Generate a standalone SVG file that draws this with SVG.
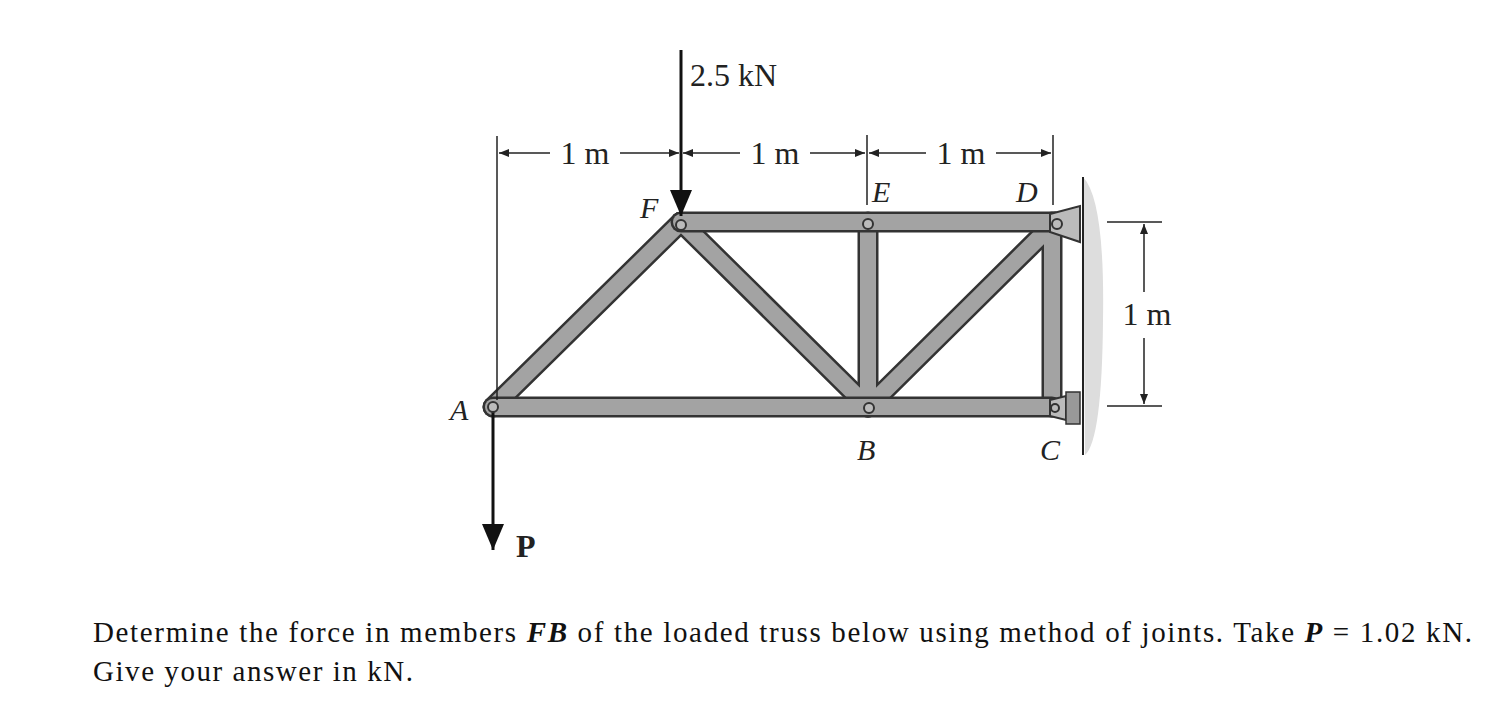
<svg xmlns="http://www.w3.org/2000/svg" width="1500" height="709" viewBox="0 0 1500 709">
<defs>
<style>
.mo{stroke:#333;stroke-width:21;stroke-linecap:round}
.mi{stroke:#a3a3a3;stroke-width:16;stroke-linecap:round}
.thin{stroke:#222;stroke-width:1.5;fill:none}
.t{font-family:"Liberation Serif",serif;font-size:32px;fill:#222}
.it{font-family:"Liberation Serif",serif;font-style:italic;font-size:30px;fill:#222}
.q{font-family:"Liberation Serif",serif;font-size:29px;fill:#111}
.pin{fill:#bbb;stroke:#333;stroke-width:2}
</style>
<marker id="ah" markerWidth="10" markerHeight="8" refX="10" refY="4" orient="auto" markerUnits="userSpaceOnUse"><path d="M0,0 L10,4 L0,8 Z" fill="#222"/></marker>
<marker id="big" markerWidth="26" markerHeight="22" refX="26" refY="11" orient="auto" markerUnits="userSpaceOnUse"><path d="M0,0 L26,11 L0,22 Z" fill="#111"/></marker>
</defs>
<rect width="1500" height="709" fill="#fff"/>
<g id="wall">
<path d="M1083,177 Q1105,200 1103,320 Q1102,440 1085,455 Z" fill="#ddd"/>
<line x1="1083" y1="177" x2="1083" y2="455" stroke="#222" stroke-width="2"/>
</g>
<g id="connectors">
<g id="members">
<line class="mo" x1="493" y1="407" x2="681" y2="222"/>
<line class="mo" x1="681" y1="222" x2="868" y2="407"/>
<line class="mo" x1="868" y1="407" x2="1055" y2="222"/>
<line class="mo" x1="868" y1="222" x2="868" y2="407"/>
<line class="mo" x1="1052" y1="222" x2="1052" y2="407"/>
<line class="mi" x1="493" y1="407" x2="681" y2="222"/>
<line class="mi" x1="681" y1="222" x2="868" y2="407"/>
<line class="mi" x1="868" y1="407" x2="1055" y2="222"/>
<line class="mi" x1="868" y1="222" x2="868" y2="407"/>
<line class="mi" x1="1052" y1="222" x2="1052" y2="407"/>
<line class="mo" x1="681" y1="222" x2="1055" y2="222"/>
<line class="mo" x1="493" y1="407" x2="1052" y2="407"/>
<line class="mi" x1="681" y1="222" x2="1055" y2="222"/>
<line class="mi" x1="493" y1="407" x2="1052" y2="407"/>
</g>
<g id="supports">
<path d="M1050,214 L1080,206 L1080,242 L1050,232 Z" class="pin"/>
<path d="M1050,400 L1066,396 L1066,420 L1050,416 Z" class="pin"/>
<rect x="1066" y="392" width="14" height="32" fill="#999" stroke="#333" stroke-width="1.5"/>
</g>
<line class="thin" x1="497" y1="136" x2="497" y2="400"/>
<line class="thin" x1="867" y1="135" x2="867" y2="205"/>
<line class="thin" x1="1053" y1="135" x2="1053" y2="205"/>
<line class="thin" x1="550" y1="153" x2="499" y2="153" marker-end="url(#ah)"/>
<line class="thin" x1="620" y1="153" x2="679" y2="153" marker-end="url(#ah)"/>
<line class="thin" x1="740" y1="153" x2="683" y2="153" marker-end="url(#ah)"/>
<line class="thin" x1="810" y1="153" x2="865" y2="153" marker-end="url(#ah)"/>
<line class="thin" x1="926" y1="153" x2="869" y2="153" marker-end="url(#ah)"/>
<line class="thin" x1="996" y1="153" x2="1051" y2="153" marker-end="url(#ah)"/>
<line class="thin" x1="1107" y1="222" x2="1162" y2="222"/>
<line class="thin" x1="1107" y1="406" x2="1162" y2="406"/>
<line class="thin" x1="1144" y1="292" x2="1144" y2="224" marker-end="url(#ah)"/>
<line class="thin" x1="1144" y1="338" x2="1144" y2="404" marker-end="url(#ah)"/>
<line x1="681" y1="50" x2="681" y2="216" stroke="#111" stroke-width="3" marker-end="url(#big)"/>
<line x1="493" y1="412" x2="493" y2="550" stroke="#111" stroke-width="3" marker-end="url(#big)"/>
</g>
<g id="A"><circle class="pin" cx="493" cy="407" r="5"/><text class="it" x="450" y="420">A</text></g>
<g id="F"><circle class="pin" cx="681" cy="225" r="5"/><text class="it" x="640" y="218">F</text></g>
<g id="E"><circle class="pin" cx="868" cy="224" r="5"/><text class="it" x="872" y="202">E</text></g>
<g id="D"><circle class="pin" cx="1057" cy="224" r="5"/><text class="it" x="1016" y="202">D</text></g>
<g id="B"><circle class="pin" cx="869" cy="408" r="5"/><text class="it" x="857" y="460">B</text></g>
<g id="C"><circle class="pin" cx="1055" cy="408" r="4"/><text class="it" x="1040" y="460">C</text></g>
<g id="labels">
<text class="t" x="690" y="86">2.5 kN</text>
<text class="t" x="585" y="164" text-anchor="middle">1 m</text>
<text class="t" x="775" y="164" text-anchor="middle">1 m</text>
<text class="t" x="961" y="164" text-anchor="middle">1 m</text>
<text class="t" x="1147" y="325" text-anchor="middle">1 m</text>
<text class="t" x="516" y="557" font-weight="bold" font-size="28">P</text>
<text class="q" x="93" y="642" textLength="1379" lengthAdjust="spacing">Determine the force in members <tspan font-weight="bold" font-style="italic">FB</tspan> of the loaded truss below using method of joints. Take <tspan font-weight="bold" font-style="italic">P</tspan> = 1.02 kN.</text>
<text class="q" x="93" y="681" textLength="320" lengthAdjust="spacing">Give your answer in kN.</text>
</g>
</svg>
